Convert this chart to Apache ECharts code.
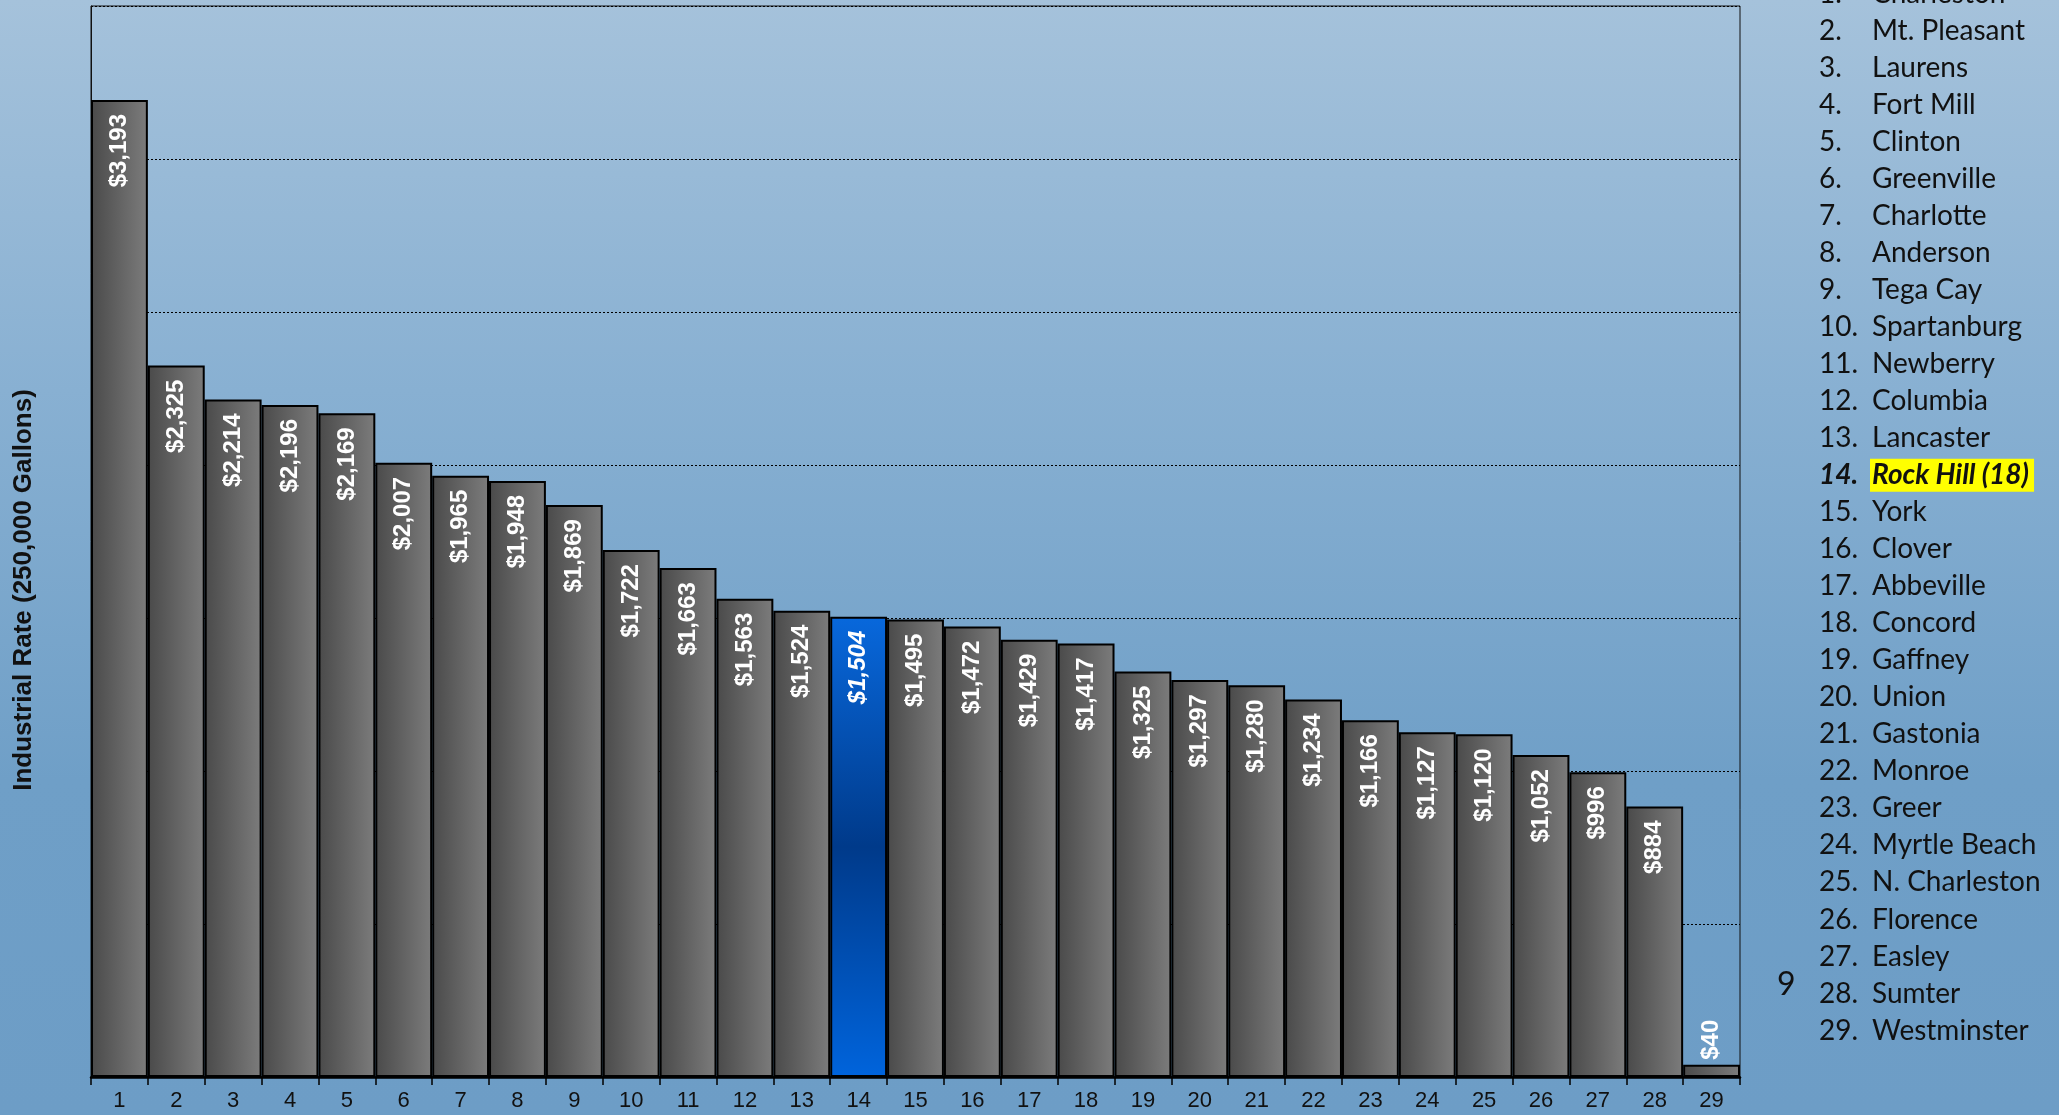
<!DOCTYPE html>
<html>
<head>
<meta charset="utf-8">
<script src="https://cdn.jsdelivr.net/npm/echarts@6/dist/echarts.min.js"></script>
<style>
  html, body { margin: 0; padding: 0; }
  #chart { width: 2059px; height: 1115px; }
</style>
</head>
<body>
<div id="chart"></div>
<script>
// rank numbers along the x axis
var ranks = ['1','2','3','4','5','6','7','8','9','10','11','12','13','14','15',
             '16','17','18','19','20','21','22','23','24','25','26','27','28','29'];
// industrial rate per city, same order as the ranks
var rates = [3193, 2325, 2214, 2196, 2169, 2007, 1965, 1948, 1869, 1722, 1663, 1563, 1524, 1504,
             1495, 1472, 1429, 1417, 1325, 1297, 1280, 1234, 1166, 1127, 1120, 1052, 996, 884, 40];
var cities = ['Charleston', 'Mt. Pleasant', 'Laurens', 'Fort Mill', 'Clinton', 'Greenville',
              'Charlotte', 'Anderson', 'Tega Cay', 'Spartanburg', 'Newberry', 'Columbia',
              'Lancaster', 'Rock Hill (18)', 'York', 'Clover', 'Abbeville', 'Concord', 'Gaffney',
              'Union', 'Gastonia', 'Monroe', 'Greer', 'Myrtle Beach', 'N. Charleston',
              'Florence', 'Easley', 'Sumter', 'Westminster'];
var highlightIdx = 13;   // Rock Hill
var yTitle = 'Industrial Rate (250,000 Gallons)';
var pageNum = '9';

function money(v) {
    return '$' + v.toLocaleString('en-US');
}

var grayFill = new echarts.graphic.LinearGradient(0, 0, 1, 0, [
    {offset: 0, color: '#4a4a4a'},
    {offset: 1, color: '#7c7c7c'}
]);
var blueFill = new echarts.graphic.LinearGradient(0, 0, 0, 1, [
    {offset: 0, color: '#0868dc'},
    {offset: 0.5, color: '#003a8a'},
    {offset: 1, color: '#0064dc'}
]);

var barData = rates.map(function (v, i) {
    var item = {value: v};
    if (i === highlightIdx) {
        item.itemStyle = {color: blueFill};
        item.label = {fontStyle: 'italic'};
    }
    if (v < 300) {
        // too short for an inside label
        item.label = {position: 'top', align: 'left', distance: 5};
    }
    return item;
});

// city list on the right
var listItems = [];
var rowTop = 31, rowStep = 37.02;
cities.forEach(function (name, i) {
    var y = rowTop + (i - 1) * rowStep;
    var hl = i === highlightIdx;
    var font = (hl ? 'italic bold ' : '') + '28px Lato';
    listItems.push({
        type: 'text', x: 1819, y: y,
        style: {text: (i + 1) + '.', font: font, fill: '#111', verticalAlign: 'middle'}
    });
    var st = {text: name, font: font, fill: '#111', verticalAlign: 'middle'};
    if (hl) {
        st.backgroundColor = '#ffff00';
        st.padding = [3, 5, 2, 2];
    }
    listItems.push({type: 'text', x: hl ? 1870 : 1872, y: y, style: st});
});
listItems.push({
    type: 'text', x: 1777, y: 985,
    style: {text: pageNum, font: '32px Lato', fill: '#111', verticalAlign: 'middle'}
});
listItems.push({
    type: 'text', x: 24, y: 590, rotation: Math.PI / 2,
    style: {
        text: yTitle, font: 'bold 26px "Liberation Sans", Arial', fill: '#111',
        align: 'center', verticalAlign: 'middle'
    }
});

var myChart = echarts.init(document.getElementById('chart'));
myChart.setOption({
    animation: false,
    backgroundColor: new echarts.graphic.LinearGradient(0, 0, 0, 1, [
        {offset: 0, color: '#a5c2db'},
        {offset: 0.35, color: '#88b0d2'},
        {offset: 0.7, color: '#6f9fc7'},
        {offset: 1, color: '#6d9dc6'}
    ]),
    grid: {
        left: 91, right: 319, top: 6, bottom: 38,
        show: true, borderColor: '#111', borderWidth: 1
    },
    xAxis: {
        type: 'category',
        data: ranks,
        axisLine: {lineStyle: {color: '#000', width: 2.5}},
        axisTick: {show: true, length: 8, interval: 0, lineStyle: {color: '#000', width: 1.5}},
        axisLabel: {
            interval: 0, margin: 13,
            fontFamily: 'Liberation Sans, Arial', fontSize: 22, color: '#111'
        }
    },
    yAxis: {
        type: 'value',
        min: 0, max: 3500, interval: 500,
        axisLine: {show: true, lineStyle: {color: '#111', width: 1}},
        axisTick: {show: false},
        axisLabel: {show: false},
        splitLine: {lineStyle: {color: '#000', type: [2, 2], width: 1}}
    },
    series: [{
        type: 'bar',
        data: barData,
        barCategoryGap: 0,
        itemStyle: {color: grayFill, borderColor: '#000', borderWidth: 2},
        label: {
            show: true,
            position: 'insideTop',
            distance: 14,
            rotate: 90,
            align: 'right',
            verticalAlign: 'middle',
            fontFamily: 'Liberation Sans, Arial',
            fontWeight: 'bold',
            fontSize: 24,
            color: '#fff',
            formatter: function (p) { return money(p.value); }
        }
    }],
    graphic: listItems
});
</script>
</body>
</html>
